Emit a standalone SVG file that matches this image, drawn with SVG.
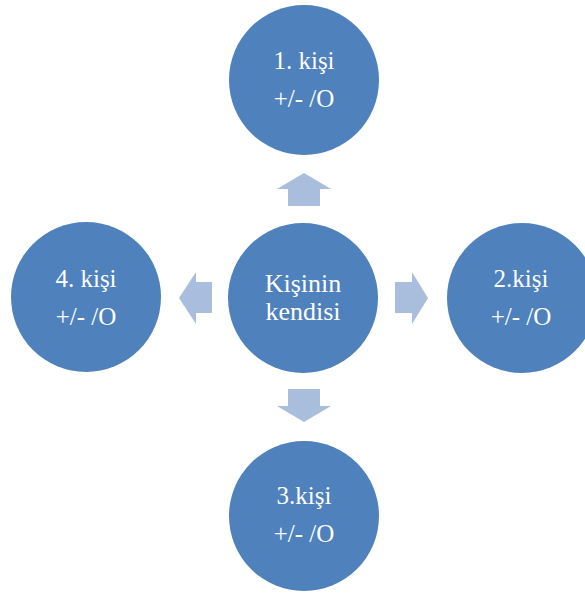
<svg xmlns="http://www.w3.org/2000/svg" width="585" height="594" viewBox="0 0 585 594">
  <defs>
    <style type="text/css">
      .node { fill: #4F81BD; }
      .arrow { fill: #A9BDDC; }
      text { fill: #FFFFFF; font-size: 25px; text-anchor: middle; }
      .big { font-size: 26px; }
    </style>
  </defs>
  <rect width="585" height="594" fill="#FFFFFF"/>

  <!-- block arrows pointing outward from the centre -->
  <g id="connectors">
    <polygon class="arrow" points="304,173 331,189 320,189 320,206 288,206 288,189 277,189"/>
    <polygon class="arrow" points="428,298 412,272 412,282 395,282 395,313 412,313 412,324"/>
    <polygon class="arrow" points="304,422 331,406 320,406 320,389 288,389 288,406 277,406"/>
    <polygon class="arrow" points="179,298 196,272 196,282 212,282 212,313 196,313 196,324"/>
  </g>

  <g font-family="Liberation Serif, Times New Roman, serif">
    <g id="center">
      <circle class="node" cx="303" cy="298" r="75"/>
      <text class="big" x="303" y="292">Kişinin</text>
      <text class="big" x="303" y="320">kendisi</text>
    </g>

    <g id="person1">
      <circle class="node" cx="304" cy="80" r="75"/>
      <text x="304" y="69">1. kişi</text>
      <text x="304" y="107">+/- /O</text>
    </g>

    <g id="person2">
      <circle class="node" cx="522" cy="298" r="75"/>
      <text x="521" y="287">2.kişi</text>
      <text x="521" y="325">+/- /O</text>
    </g>

    <g id="person3">
      <circle class="node" cx="304" cy="516" r="75"/>
      <text x="304" y="504">3.kişi</text>
      <text x="304" y="542">+/- /O</text>
    </g>

    <g id="person4">
      <circle class="node" cx="86" cy="297" r="75"/>
      <text x="86" y="287">4. kişi</text>
      <text x="86" y="325">+/- /O</text>
    </g>
  </g>
</svg>
